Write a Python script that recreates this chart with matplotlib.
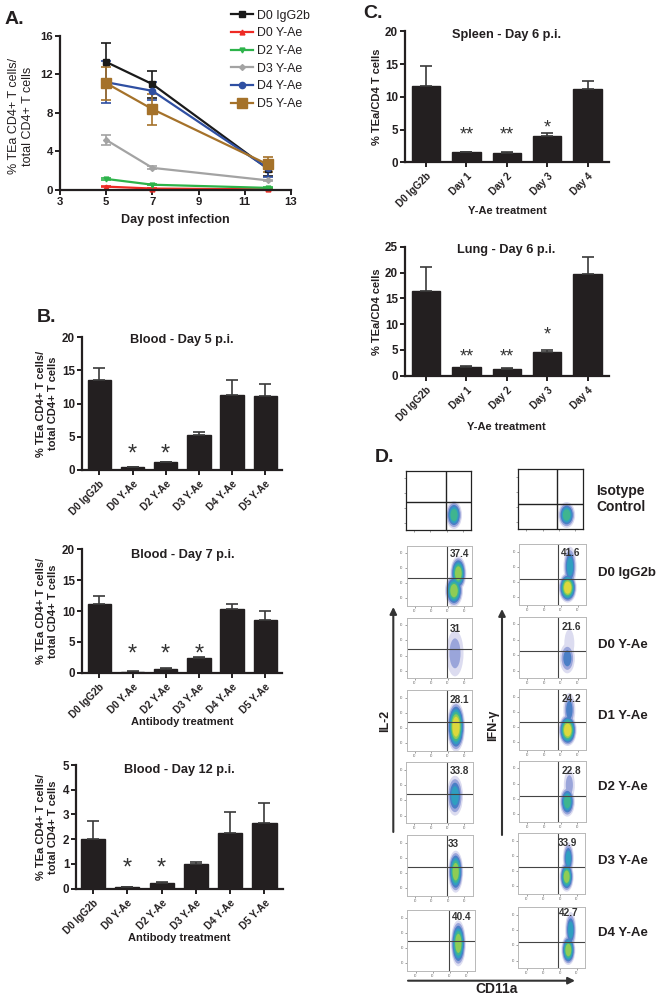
import matplotlib
matplotlib.use('Agg')
import matplotlib.pyplot as plt
from matplotlib.lines import Line2D
from matplotlib.patches import Ellipse

plt.rcParams['font.family'] = ['Liberation Sans', 'DejaVu Sans']
plt.rcParams['font.weight'] = 'bold'
plt.rcParams['axes.labelweight'] = 'bold'
plt.rcParams['text.color'] = '#231f20'
plt.rcParams['xtick.color'] = '#231f20'
plt.rcParams['ytick.color'] = '#231f20'
plt.rcParams['axes.labelcolor'] = '#231f20'

W, H = 667, 999
DARK = '#231f20'

# Panel A - time course
days = [5, 7, 12]
line_labels = ['D0 IgG2b', 'D0 Y-Ae', 'D2 Y-Ae', 'D3 Y-Ae', 'D4 Y-Ae', 'D5 Y-Ae']
line_colors = ['#1a1a1a', '#ee2a24', '#2db34a', '#a3a3a3', '#2f4fa2', '#a5722a']
line_markers = ['s', '^', 'v', 'D', 'o', 's']
line_msize = [4, 3.5, 3.5, 3, 4.5, 6.5]
line_means = [
    [13.3, 11.0, 2.2],
    [0.35, 0.15, 0.07],
    [1.15, 0.55, 0.22],
    [5.2, 2.3, 1.0],
    [11.2, 10.3, 2.25],
    [11.1, 8.4, 2.65],
]
line_errs = [
    [2.0, 1.4, 0.75],
    [0.05, 0.03, 0.01],
    [0.1, 0.05, 0.04],
    [0.55, 0.15, 0.06],
    [2.2, 0.9, 0.85],
    [1.7, 1.6, 0.8],
]

# Panel B - blood
b_labels = ['D0 IgG2b', 'D0 Y-Ae', 'D2 Y-Ae', 'D3 Y-Ae', 'D4 Y-Ae', 'D5 Y-Ae']
blood5 = [13.5, 0.4, 1.2, 5.2, 11.3, 11.2]
blood5_err = [1.8, 0.05, 0.07, 0.5, 2.2, 1.7]
blood7 = [11.1, 0.15, 0.65, 2.4, 10.3, 8.5]
blood7_err = [1.3, 0.05, 0.05, 0.1, 0.9, 1.5]
blood12 = [2.02, 0.07, 0.22, 1.0, 2.27, 2.67]
blood12_err = [0.73, 0.01, 0.04, 0.06, 0.83, 0.78]

# Panel C - spleen and lung
c_labels = ['D0 IgG2b', 'Day 1', 'Day 2', 'Day 3', 'Day 4']
spleen = [11.7, 1.5, 1.45, 4.0, 11.2]
spleen_err = [3.0, 0.1, 0.05, 0.4, 1.2]
lung = [16.5, 1.75, 1.35, 4.6, 19.8]
lung_err = [4.5, 0.15, 0.1, 0.4, 3.3]

# Panel D - flow plots, percentages printed in the quadrants
flow_pct_il2 = ['37.4', '31', '28.1', '33.8', '33', '40.4']
flow_pct_ifn = ['41.6', '21.6', '24.2', '22.8', '33.9', '42.7']
flow_rows = ['D0 IgG2b', 'D0 Y-Ae', 'D1 Y-Ae', 'D2 Y-Ae', 'D3 Y-Ae', 'D4 Y-Ae']


def axes_px(x0, y0, x1, y1):
    return fig.add_axes([x0 / W, 1 - y1 / H, (x1 - x0) / W, (y1 - y0) / H])


def text_px(x, y, s, **kw):
    kw.setdefault('ha', 'left')
    kw.setdefault('va', 'center')
    fig.text(x / W, 1 - y / H, s, **kw)


def style_axes(ax):
    for side in ['top', 'right']:
        ax.spines[side].set_visible(False)
    for side in ['left', 'bottom']:
        ax.spines[side].set_linewidth(1.6)
        ax.spines[side].set_color(DARK)
    ax.tick_params(width=1.4, length=3.5)


def bar_panel(box, c0, step, vals, errs, labels, top, yticks, title, title_xy, ylabel, ylabel_x, xlabel, stars):
    left, ytop, right, y0 = box
    ax = axes_px(left, ytop, right, y0)
    xs = list(range(len(vals)))
    ax.bar(xs, vals, width=0.7, color=DARK, edgecolor=DARK)
    ax.errorbar(xs, vals, yerr=[[0] * len(errs), errs], fmt='none', ecolor='#3a3a3a',
                elinewidth=1.2, capsize=4.4, capthick=1.2)
    ax.set_xlim((left - c0) / step, (right - c0) / step)
    ax.set_ylim(0, top)
    ax.set_yticks(yticks)
    ax.set_xticks(xs)
    ax.set_xticklabels(labels, rotation=45, ha='right', rotation_mode='anchor', fontsize=7.2)
    ax.tick_params(axis='y', labelsize=8.4, pad=1.5)
    ax.tick_params(axis='x', pad=3)
    style_axes(ax)
    text_px(title_xy[0], title_xy[1], title, ha='center', fontsize=9.2)
    text_px(ylabel_x, (ytop + y0) / 2, ylabel, ha='center', rotation=90,
            fontsize=8, linespacing=1.25, multialignment='center')
    if xlabel:
        text_px(xlabel[1], xlabel[2], xlabel[0], ha='center', fontsize=8)
    for i, yv, s, size in stars:
        ax.annotate(s, (i, yv), xytext=(0, -0.42 * size), textcoords='offset points',
                    ha='center', va='baseline', fontsize=size, fontweight='normal', color='#333333')
    return ax


fig = plt.figure(figsize=(W / 100, H / 100), dpi=100)

# A
ax = axes_px(60, 36, 291, 190)
handles = []
for mean, err, lab, col, mk, ms in zip(line_means, line_errs, line_labels, line_colors, line_markers, line_msize):
    ax.errorbar(days, mean, yerr=err, color=col, marker=mk, ms=ms, lw=1.6, elinewidth=1.2,
                capsize=3.6, capthick=1.2, clip_on=False)
    handles.append(Line2D([], [], color=col, marker=mk, ms=ms, lw=1.6, label=lab))
ax.set_xlim(3, 13)
ax.set_ylim(0, 16)
ax.set_xticks([3, 5, 7, 9, 11, 13])
ax.set_yticks([0, 4, 8, 12, 16])
ax.tick_params(labelsize=8.2, pad=1.5)
style_axes(ax)
fig.legend(handles=handles, loc='upper left', bbox_to_anchor=(231 / W, 1 - 9.5 / H), frameon=False, borderpad=0,
           borderaxespad=0, prop={'size': 8.9, 'weight': 'normal'}, labelspacing=0.46,
           handlelength=1.8, handletextpad=0.3)
text_px(175, 220, 'Day post infection', ha='center', fontsize=9)
text_px(21, 116, '% TEa CD4+ T cells/\ntotal CD4+ T cells', ha='center', rotation=90, fontsize=9,
        linespacing=1.15, multialignment='center', fontweight='normal')

two_line = '% TEa CD4+ T cells/\ntotal CD4+ T cells'

# B
bar_panel((82, 337, 282, 470), 99.3, 33.2, blood5, blood5_err, b_labels, 20, [0, 5, 10, 15, 20],
          'Blood - Day 5 p.i.', (182, 340), two_line, 47, None,
          [(1, 2.9, '*', 17), (2, 2.9, '*', 17)])
bar_panel((82, 549.3, 282, 672.7), 99.3, 33.2, blood7, blood7_err, b_labels, 20, [0, 5, 10, 15, 20],
          'Blood - Day 7 p.i.', (183, 555), two_line, 47, ('Antibody treatment', 182, 722),
          [(1, 3.5, '*', 17), (2, 3.5, '*', 17), (3, 3.5, '*', 17)])
bar_panel((76.3, 765, 283, 888.7), 93, 34.3, blood12, blood12_err, b_labels, 5, [0, 1, 2, 3, 4, 5],
          'Blood - Day 12 p.i.', (179, 770), two_line, 47, ('Antibody treatment', 179, 938),
          [(1, 0.96, '*', 17), (2, 0.96, '*', 17)])

# C
bar_panel((404.7, 31.3, 608.7, 162.3), 426, 40.4, spleen, spleen_err, c_labels, 20, [0, 5, 10, 15, 20],
          'Spleen - Day 6 p.i.', (507, 35), '% TEa/CD4 T cells', 377, ('Y-Ae treatment', 507, 211),
          [(1, 4.6, '**', 13), (2, 4.6, '**', 13), (3, 5.7, '*', 13)])
bar_panel((404.7, 246.7, 608.7, 375.7), 426, 40.4, lung, lung_err, c_labels, 25, [0, 5, 10, 15, 20, 25],
          'Lung - Day 6 p.i.', (506, 250), '% TEa/CD4 cells', 377, ('Y-Ae treatment', 506, 427),
          [(1, 4.3, '**', 13), (2, 4.3, '**', 13), (3, 8.5, '*', 13)])

# D - density blobs are nested ellipses, outer (pale) to inner (warm)
levels = ['#dcdcf0', '#9aa5da', '#4a7fc6', '#2f9fc0', '#3fb58f', '#8fcc55', '#dcd83c']


def flow_panel(frame, cross, blobs, pct=None, pct_xy=None, isotype=False):
    # frame, cross and blobs are in page pixels
    x0, y0, x1, y1 = frame
    ax = axes_px(x0, y0, x1, y1)
    ax.set_xlim(x0, x1)
    ax.set_ylim(y1, y0)
    for k, colour in enumerate(levels):
        for cx, cy, rx, ry, depth in blobs:
            if k >= depth:
                continue
            f = 1 - k * 0.7 / max(depth, 1)
            ax.add_patch(Ellipse((cx, cy), 2 * rx * f, 2 * ry * f, color=colour, lw=0))
    grey = '#222222' if isotype else '#444444'
    ax.axvline(cross[0], color=grey, lw=1.0 if isotype else 0.8)
    ax.axhline(cross[1], color=grey, lw=1.0 if isotype else 0.8)
    n = 4
    ax.set_xticks([x0 + (x1 - x0) * (i + 0.5) / n for i in range(n)])
    ax.set_yticks([y0 + (y1 - y0) * (i + 0.5) / n for i in range(n)])
    for s in ax.spines.values():
        s.set_color('#222222' if isotype else '#b8b8b8')
        s.set_linewidth(0.9 if isotype else 0.7)
    ax.tick_params(length=1.2, width=0.5, color='#777777', labelleft=False, labelbottom=False)
    if not isotype:
        for i in range(n):
            ax.text(x0 - 5, y0 + (y1 - y0) * (i + 0.5) / n, '10', fontsize=2.2, color='#777777',
                    ha='center', va='center', clip_on=False, fontweight='normal')
            ax.text(x0 + (x1 - x0) * (i + 0.5) / n, y1 + 5, '10', fontsize=2.2, color='#777777',
                    ha='center', va='center', clip_on=False, fontweight='normal')
    if pct:
        ax.text(pct_xy[0], pct_xy[1], pct, fontsize=7.2, ha='center', va='center', color='#333333', zorder=6)


def z(x, y, top):
    return x / 3 + 390, y / 3 + top


def frame_z(a, b, c, d, top):
    return z(a, b, top) + z(c, d, top)


flow_panel(frame_z(47, 32, 243, 210, 460), z(167, 127, 460),
           [(z(192, 165, 460) + (8, 14, 5))], isotype=True)
flow_panel(frame_z(385, 28, 580, 207, 460), z(500, 132, 460),
           [(z(530, 165, 460) + (8.5, 13, 5))], isotype=True)

left_frames = [
    (frame_z(50, 257, 247, 437, 460), z(172, 353, 460), z(208, 282, 460),
     [z(205, 340, 460) + (8, 17, 6), z(192, 392, 460) + (9, 16, 6)]),
    (frame_z(50, 473, 247, 655, 460), z(172, 568, 460), z(195, 508, 460),
     [z(195, 580, 460) + (8.5, 23, 2)]),
    (frame_z(50, 690, 247, 872, 460), z(172, 786, 460), z(207, 720, 460),
     [z(198, 800, 460) + (9, 25, 7)]),
    (frame_z(48, 97, 248, 280, 730), z(172, 193, 730), z(207, 122, 730),
     [z(195, 197, 730) + (8, 20, 4)]),
    (frame_z(50, 316, 248, 498, 730), z(172, 412, 730), z(190, 342, 730),
     [z(197, 425, 730) + (7.5, 21, 6)]),
    (frame_z(52, 540, 255, 722, 730), z(176, 634, 730), z(216, 561, 730),
     [z(205, 640, 730) + (7.5, 23, 6)]),
]
right_frames = [
    (frame_z(387, 253, 588, 435, 460), z(505, 356, 460), z(543, 278, 460),
     [z(540, 320, 460) + (6.5, 20, 4), z(533, 383, 460) + (9, 15, 7)]),
    (frame_z(387, 470, 588, 655, 460), z(505, 574, 460), z(543, 502, 460),
     [z(538, 550, 460) + (5, 14, 1), z(532, 595, 460) + (7.5, 15, 3)]),
    (frame_z(387, 687, 588, 870, 460), z(505, 787, 460), z(543, 718, 460),
     [z(538, 750, 460) + (6, 17, 3), z(533, 810, 460) + (9, 16, 7)]),
    (frame_z(387, 92, 587, 275, 730), z(505, 198, 730), z(543, 123, 730),
     [z(538, 165, 730) + (5.5, 15, 2), z(532, 215, 730) + (7.5, 15, 5)]),
    (frame_z(385, 310, 585, 492, 730), z(503, 412, 730), z(533, 340, 730),
     [z(535, 385, 730) + (5.5, 16, 4), z(530, 440, 730) + (7, 15, 6)]),
    (frame_z(385, 532, 585, 715, 730), z(505, 636, 730), z(536, 549, 730),
     [z(542, 600, 730) + (5.5, 18, 4), z(535, 660, 730) + (7, 15, 6)]),
]
for (fr, cr, xy, bl), p in zip(left_frames, flow_pct_il2):
    flow_panel(fr, cr, bl, p, xy)
for (fr, cr, xy, bl), p in zip(right_frames, flow_pct_ifn):
    flow_panel(fr, cr, bl, p, xy)

# row names
text_px(596, 491.5, 'Isotype', fontsize=10)
text_px(596, 507, 'Control', fontsize=10)
row_y = [572.7, 645, 716, 787.3, 861, 932.7]
for name, yy in zip(flow_rows, row_y):
    text_px(598, yy, name, fontsize=9.5)

# axis arrows
arrow = dict(arrowstyle='-|>', color='#333333', lw=1.5, mutation_scale=10, shrinkA=0, shrinkB=0)
ov = fig.add_axes([0, 0, 1, 1], facecolor='none')
ov.set_xlim(0, W)
ov.set_ylim(H, 0)
ov.axis('off')
ov.annotate('', xy=(393.3, 607), xytext=(393.3, 832), arrowprops=arrow)
ov.annotate('', xy=(502, 609), xytext=(502, 835), arrowprops=arrow)
ov.annotate('', xy=(575, 980.7), xytext=(408, 980.7), arrowprops=arrow)
text_px(385, 721, 'IL-2', ha='center', rotation=90, fontsize=9)
text_px(493, 725, 'IFN-γ', ha='center', rotation=90, fontsize=9)
text_px(497, 989, 'CD11a', ha='center', fontsize=10)

# panel letters
text_px(5, 19, 'A.', fontsize=14)
text_px(37, 317, 'B.', fontsize=14)
text_px(363, 13, 'C.', fontsize=14)
text_px(375, 457, 'D.', fontsize=14)

fig.savefig('out.png', dpi=100)
